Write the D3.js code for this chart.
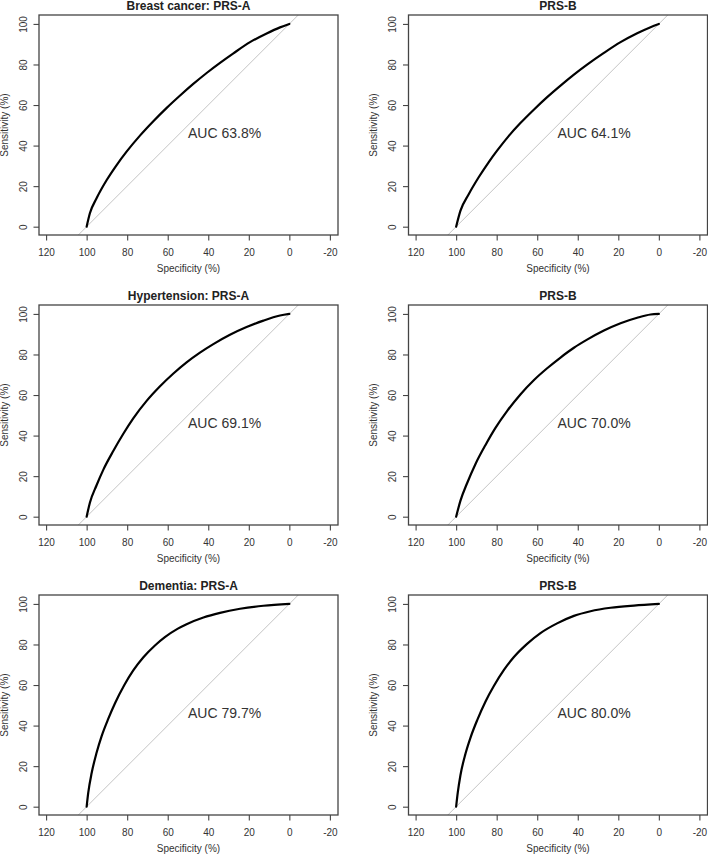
<!DOCTYPE html>
<html>
<head>
<meta charset="utf-8">
<script src="https://cdn.jsdelivr.net/npm/d3@7"></script>
<style>
  html, body { margin: 0; padding: 0; background: #fff; }
  svg { display: block; font-family: "Liberation Sans", Arial, sans-serif; }
</style>
</head>
<body>
<svg id="chart" width="708" height="855"></svg>
<script>
// ---------- data ----------
const titles = ["Breast cancer: PRS-A", "PRS-B", "Hypertension: PRS-A", "PRS-B", "Dementia: PRS-A", "PRS-B"];
const aucLabels = ["AUC 63.8%", "AUC 64.1%", "AUC 69.1%", "AUC 70.0%", "AUC 79.7%", "AUC 80.0%"];
const xTicks = [120, 100, 80, 60, 40, 20, 0, -20];
const yTicks = [0, 20, 40, 60, 80, 100];
const xLabel = "Specificity (%)";
const yLabel = "Sensitivity (%)";

const breastA_spec = [100, 98.4, 95.1, 90.1, 85.2, 80.3, 73.7, 67.1, 60.5, 53.9, 47.4, 40.8, 34.2, 27.6, 19.4, 11.2, 4.6, 0];
const breastA_sens = [0, 6.6, 14, 23, 30.4, 37, 44.9, 52.0, 58.6, 64.7, 70.4, 75.8, 80.8, 85.5, 91.0, 95.3, 98.3, 100];

const breastB_spec = [100, 97.9, 93.8, 88.8, 83.9, 79.8, 74, 68.3, 61.7, 55.1, 48.5, 41.9, 35.4, 27.1, 18.9, 10.7, 4.1, 0];
const breastB_sens = [0, 7.8, 16.0, 24.5, 31.9, 37.5, 44.8, 51.1, 57.7, 63.9, 69.6, 75.0, 79.9, 85.7, 91.0, 95.4, 98.4, 100];

const hyperA_spec = [100, 98.4, 95.1, 91.8, 86.8, 81.9, 77, 70.4, 63.8, 57.2, 50.7, 44.1, 37.5, 29.3, 21.1, 12.8, 4.6, 0];
const hyperA_sens = [0, 6.9, 15.5, 23.1, 32.5, 40.9, 48.5, 57.1, 64.3, 70.6, 76.1, 80.9, 85.1, 89.7, 93.5, 96.7, 99.2, 100];

const hyperB_spec = [100, 97.9, 94.6, 90.5, 85.5, 80.6, 74.8, 68.3, 61.7, 55.1, 48.5, 41.9, 35.4, 27.1, 18.9, 10.7, 4.1, 0];
const hyperB_sens = [0, 7.8, 16.5, 25.9, 35.4, 43.8, 52.2, 60.3, 67.3, 73.2, 78.5, 83.3, 87.3, 91.8, 95.4, 98.1, 99.7, 100];

const dementA_spec = [100, 99.2, 97.5, 95.1, 92.6, 89.3, 86, 81.4, 77, 72, 66.3, 61.4, 55, 50.7, 42.4, 34.2, 24.3, 12.8, 0];
const dementA_sens = [0, 6.9, 16.7, 26.6, 34.8, 43.4, 51.0, 60.0, 67.2, 73.7, 79.5, 83.6, 87.8, 90.0, 93.3, 95.6, 97.6, 99.1, 100];

const dementB_spec = [100, 99.2, 97.9, 95.4, 92.9, 89.6, 85.5, 81.4, 76.5, 71.5, 65, 58.4, 50.2, 41.9, 33.7, 23.8, 12.3, 0];
const dementB_sens = [0, 6.9, 15.4, 26.1, 34.1, 42.7, 51.9, 59.5, 67.3, 73.8, 80.3, 85.6, 90.4, 94.1, 96.4, 98.1, 99.2, 100];

const specSeries = [breastA_spec, breastB_spec, hyperA_spec, hyperB_spec, dementA_spec, dementB_spec];
const sensSeries = [breastA_sens, breastB_sens, hyperA_sens, hyperB_sens, dementA_sens, dementB_sens];

// ---------- layout ----------
const colLeft = [39, 408.5];
const boxW = 299;
const rowTop = [15, 305, 595];
const boxH = 220;
const xDomain = [123.5, -24];
const yDomain = [-4.1, 104.4];

const svg = d3.select("#chart");
const textCol = "#333";

titles.forEach((title, i) => {
  const col = i % 2, row = Math.floor(i / 2);
  const x0 = colLeft[col], y0 = rowTop[row];
  const x = d3.scaleLinear().domain(xDomain).range([x0, x0 + boxW]);
  const y = d3.scaleLinear().domain(yDomain).range([y0 + boxH, y0]);
  const g = svg.append("g");

  const clipId = "clip" + i;
  svg.append("clipPath").attr("id", clipId)
    .append("rect").attr("x", x0).attr("y", y0).attr("width", boxW).attr("height", boxH);

  // diagonal reference line
  g.append("line")
    .attr("clip-path", `url(#${clipId})`)
    .attr("x1", x(100 - yDomain[0])).attr("y1", y(yDomain[0]))
    .attr("x2", x(100 - yDomain[1])).attr("y2", y(yDomain[1]))
    .attr("stroke", "#c4c4c4").attr("stroke-width", 1);

  // ROC curve
  const pts = specSeries[i].map((s, k) => [s, sensSeries[i][k]]);
  g.append("path")
    .datum(pts)
    .attr("fill", "none")
    .attr("stroke", "#000")
    .attr("stroke-width", 2.2)
    .attr("stroke-linejoin", "round")
    .attr("stroke-linecap", "round")
    .attr("d", d3.line().x(d => x(d[0])).y(d => y(d[1])).curve(d3.curveMonotoneX));

  // box
  g.append("rect")
    .attr("x", x0).attr("y", y0).attr("width", boxW).attr("height", boxH)
    .attr("fill", "none").attr("stroke", "#444").attr("stroke-width", 1.3);

  // x axis
  const xAxis = d3.axisBottom(x).tickValues(xTicks).tickSize(5.5).tickPadding(0);
  const xg = g.append("g").attr("transform", `translate(0,${y0 + boxH})`).call(xAxis);
  xg.select(".domain").remove();
  xg.selectAll(".tick line").attr("stroke", "#444").attr("stroke-width", 1.1);
  xg.selectAll(".tick text")
    .attr("y", 21).attr("dy", null)
    .attr("fill", textCol).attr("font-size", 10)
    .attr("font-family", '"Liberation Sans", Arial, sans-serif')
    .text(d => d < 0 ? "-" + Math.abs(d) : d);

  // y axis
  const yAxis = d3.axisLeft(y).tickValues(yTicks).tickSize(5.5).tickPadding(0);
  const yg = g.append("g").attr("transform", `translate(${x0},0)`).call(yAxis);
  yg.select(".domain").remove();
  yg.selectAll(".tick line").attr("stroke", "#444").attr("stroke-width", 1.1);
  yg.selectAll(".tick text")
    .attr("x", null).attr("dy", null)
    .attr("text-anchor", "middle")
    .attr("transform", "translate(-12.5,0) rotate(-90)")
    .attr("fill", textCol).attr("font-size", 10)
    .attr("font-family", '"Liberation Sans", Arial, sans-serif');

  // axis titles
  g.append("text")
    .attr("x", x0 + boxW / 2).attr("y", y0 + boxH + 37)
    .attr("text-anchor", "middle").attr("font-size", 10).attr("fill", textCol)
    .text(xLabel);
  g.append("text")
    .attr("transform", `translate(${x0 - 31.5},${y0 + boxH / 2}) rotate(-90)`)
    .attr("text-anchor", "middle").attr("font-size", 10).attr("fill", textCol)
    .text(yLabel);

  // title
  g.append("text")
    .attr("x", x0 + boxW / 2).attr("y", y0 - 5)
    .attr("text-anchor", "middle").attr("font-size", 12).attr("font-weight", "bold")
    .attr("fill", "#222")
    .text(title);

  // AUC label
  g.append("text")
    .attr("x", x(50)).attr("y", y(50)).attr("dy", "0.88em")
    .attr("font-size", 14).attr("fill", textCol)
    .text(aucLabels[i]);
});
</script>
</body>
</html>
